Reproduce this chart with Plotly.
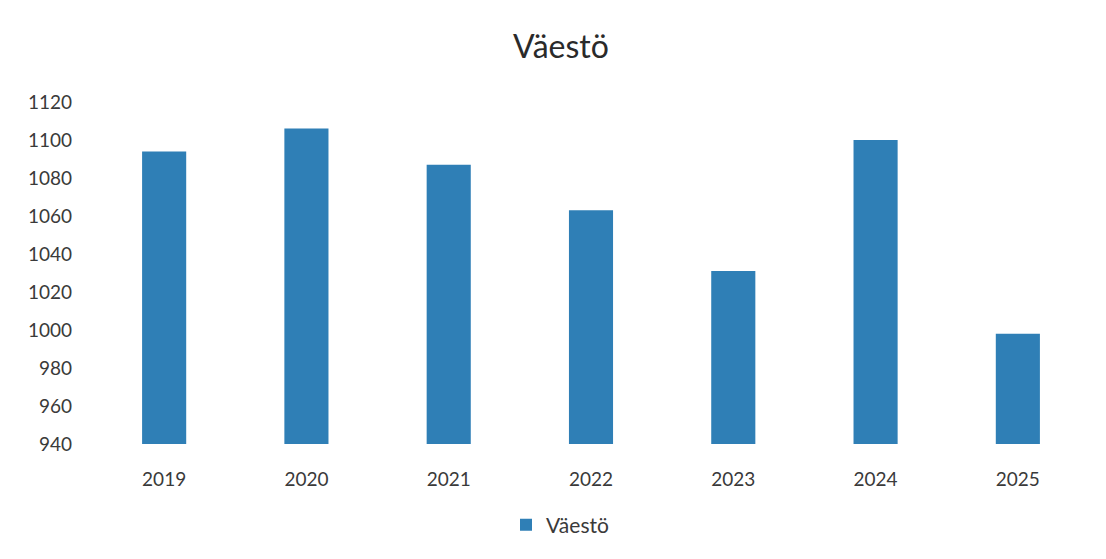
import plotly.graph_objects as go

years = ["2019", "2020", "2021", "2022", "2023", "2024", "2025"]
population = [1094, 1106, 1087, 1063, 1031, 1100, 998]
y_ticks = [940, 960, 980, 1000, 1020, 1040, 1060, 1080, 1100, 1120]

OFF = 8  # page body margin
W, H = 1106 - 2 * OFF, 559 - 2 * OFF
# desired plot area in screen pixels
PL, PR, PT, PB = 93, 1089, 102, 444
L, T = PL - OFF, PT - OFF
R = W - (PR - OFF)
B = H - (PB - OFF)

fig = go.Figure()
fig.add_trace(go.Bar(
    x=years, y=population, name="Väestö",
    marker=dict(color="#2F7FB6", line=dict(width=0)),
))

fig.update_layout(
    width=W, height=H,
    margin=dict(l=L, r=R, t=T, b=B, autoexpand=False),
    paper_bgcolor="white", plot_bgcolor="white",
    font=dict(family="Lato, Open Sans, sans-serif", size=19, color="#3a3a3a"),
    title=dict(text="Väestö", x=(561 - OFF) / W, xanchor="center", y=1 - (47 - OFF) / H,
               yanchor="middle", font=dict(size=32, color="#2a2a2a")),
    bargap=0.69,
    showlegend=True,
    legend=dict(orientation="h", x=(560 - PL) / (PR - PL), xanchor="center",
                y=(PB - 525) / (PB - PT), yanchor="middle",
                font=dict(size=21), bgcolor="rgba(0,0,0,0)", itemwidth=30),
    xaxis=dict(showgrid=False, showline=False, zeroline=False, ticks="",
               ticklabelstandoff=22, tickfont=dict(size=19)),
    yaxis=dict(range=[940, 1120], tickvals=y_ticks, showgrid=False, showline=False,
               zeroline=False, ticks="", ticklabelstandoff=20, tickfont=dict(size=19)),
)

fig.write_html("out.html")
